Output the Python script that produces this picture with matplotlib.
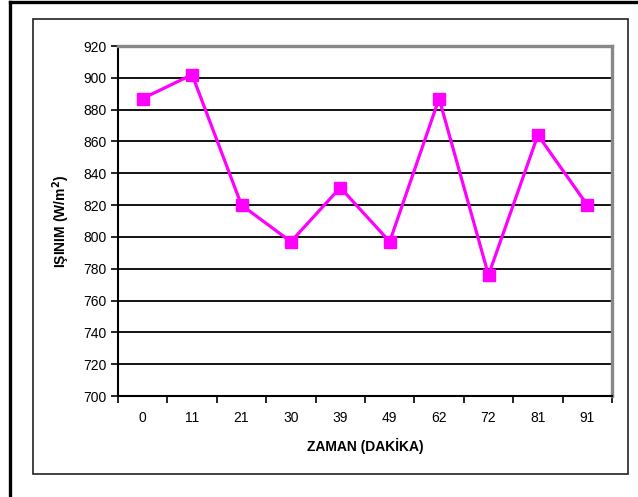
import numpy as np
import matplotlib
matplotlib.use("Agg")
from matplotlib import pyplot as plt
from matplotlib.lines import Line2D
from matplotlib.patches import Rectangle

zaman = ["0", "11", "21", "30", "39", "49", "62", "72", "81", "91"]
isinim = [887, 902, 820, 797, 831, 797, 887, 776, 864, 820]
y_ticks = [700, 720, 740, 760, 780, 800, 820, 840, 860, 880, 900, 920]

plt.rcParams['font.family'] = ['Liberation Sans', 'DejaVu Sans']

fig = plt.figure(figsize=(6.38, 4.97), dpi=100)
W, H = 638, 497

# page border lines (top and left)
fig.add_artist(Line2D([10 / W, 1], [1 - 1.5 / H, 1 - 1.5 / H], color="black", lw=2.4,
                      transform=fig.transFigure))
fig.add_artist(Line2D([10 / W, 10 / W], [0, 1 - 1.5 / H], color="black", lw=2.4,
                      transform=fig.transFigure))
# chart frame
fig.add_artist(Rectangle((33 / W, 1 - 474 / H), (628 - 33) / W, (474 - 19) / H,
                         fill=False, edgecolor="#222222", lw=1.2, transform=fig.transFigure))

ax = fig.add_axes([118 / W, 1 - 396 / H, (612 - 118) / W, (396 - 46) / H])

x = np.arange(len(zaman))
ax.plot(x, isinim, color="#FF00FF", lw=2.3, marker="s", markersize=8.5,
        markeredgecolor="#FF00FF", zorder=5, clip_on=False)

ax.set_xlim(-0.5, len(zaman) - 0.5)
ax.set_ylim(700, 920)
ax.set_yticks(y_ticks)
ax.set_yticklabels([str(v) for v in y_ticks], fontsize=10)
ax.set_xticks(x)
ax.set_xticklabels(zaman, fontsize=10)
ax.set_xticks(np.arange(-0.5, len(zaman)), minor=True)
ax.tick_params(axis="x", which="major", length=0, pad=11)
ax.tick_params(axis="x", which="minor", length=5, width=1.2, direction="out", color="black")
ax.tick_params(axis="y", length=5, width=1.2, direction="out", pad=3)

for v in y_ticks[1:-1]:
    ax.axhline(v, color="black", lw=1.3, zorder=1)

ax.spines["left"].set_linewidth(1.5)
ax.spines["bottom"].set_linewidth(1.5)
ax.spines["top"].set_color("#888888")
ax.spines["right"].set_color("#888888")
ax.spines["top"].set_linewidth(2.4)
ax.spines["right"].set_linewidth(2.4)

ax.set_xlabel("ZAMAN (DAKİKA)", fontsize=10, fontweight="bold", labelpad=9)
ax.set_ylabel("IŞINIM (W/m$^\\mathbf{2}$)", fontsize=10, fontweight="bold", labelpad=8)

plt.savefig("out.png", dpi=100)
